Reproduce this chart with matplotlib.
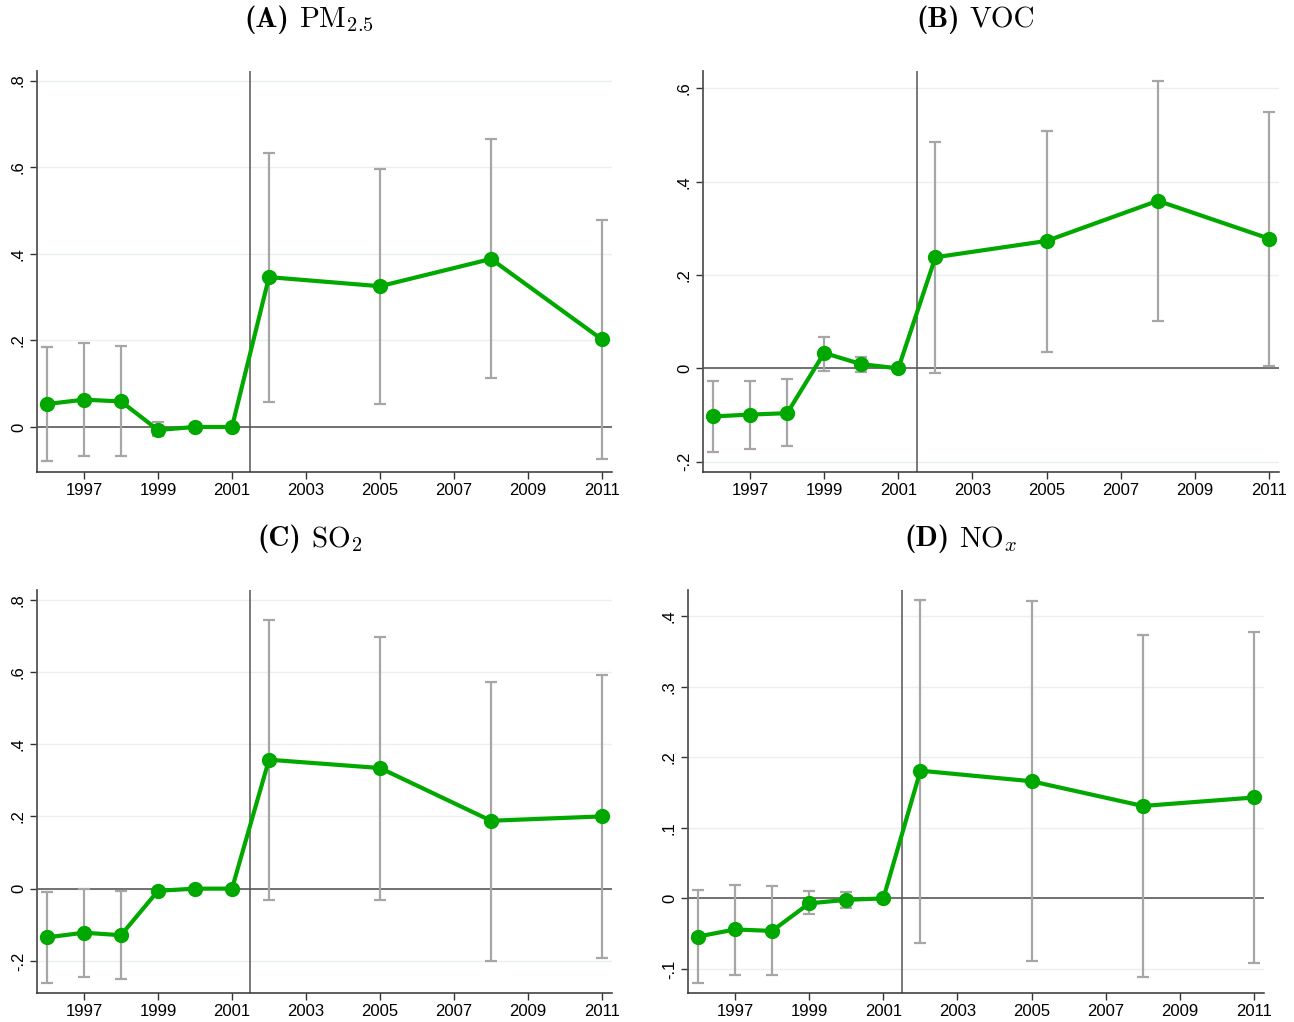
import matplotlib.pyplot as plt

plt.rcParams['font.family'] = ['Liberation Sans', 'DejaVu Sans']
plt.rcParams['mathtext.fontset'] = 'cm'

years = [1996, 1997, 1998, 1999, 2000, 2001, 2002, 2005, 2008, 2011]

# (A) PM2.5
pm_coef = [0.053, 0.063, 0.059, -0.007, 0.000, 0.0, 0.346, 0.325, 0.388, 0.202]
pm_hi = [0.185, 0.195, 0.188, 0.012, 0.002, 0.0, 0.632, 0.596, 0.665, 0.479]
pm_lo = [-0.079, -0.067, -0.068, -0.022, -0.002, 0.0, 0.058, 0.053, 0.112, -0.073]

# (B) VOC
voc_coef = [-0.103, -0.099, -0.096, 0.033, 0.009, 0.0, 0.238, 0.273, 0.359, 0.278]
voc_hi = [-0.028, -0.026, -0.023, 0.068, 0.025, 0.0, 0.485, 0.509, 0.616, 0.550]
voc_lo = [-0.179, -0.173, -0.167, -0.006, -0.008, 0.0, -0.009, 0.036, 0.101, 0.006]

# (C) SO2
so2_coef = [-0.135, -0.122, -0.129, -0.006, 0.000, 0.0, 0.357, 0.334, 0.188, 0.200]
so2_hi = [-0.009, 0.000, -0.006, -0.002, 0.002, 0.0, 0.744, 0.698, 0.573, 0.591]
so2_lo = [-0.260, -0.246, -0.249, -0.010, -0.002, 0.0, -0.032, -0.032, -0.199, -0.191]

# (D) NOx
nox_coef = [-0.054, -0.044, -0.046, -0.007, -0.002, 0.0, 0.181, 0.166, 0.131, 0.143]
nox_hi = [0.012, 0.019, 0.018, 0.010, 0.009, 0.0, 0.423, 0.422, 0.373, 0.377]
nox_lo = [-0.120, -0.108, -0.109, -0.022, -0.013, 0.0, -0.063, -0.089, -0.111, -0.092]

xticks = [1997, 1999, 2001, 2003, 2005, 2007, 2009, 2011]

panels = [
    ('(A)', r'PM$_{2.5}$', pm_coef, pm_lo, pm_hi,
     [0, 0.2, 0.4, 0.6, 0.8], ['0', '.2', '.4', '.6', '.8'], (-0.104, 0.822)),
    ('(B)', 'VOC', voc_coef, voc_lo, voc_hi,
     [-0.2, 0, 0.2, 0.4, 0.6], ['-.2', '0', '.2', '.4', '.6'], (-0.222, 0.637)),
    ('(C)', r'SO$_{2}$', so2_coef, so2_lo, so2_hi,
     [-0.2, 0, 0.2, 0.4, 0.6, 0.8], ['-.2', '0', '.2', '.4', '.6', '.8'], (-0.289, 0.827)),
    ('(D)', r'NO$_{x}$', nox_coef, nox_lo, nox_hi,
     [-0.1, 0, 0.1, 0.2, 0.3, 0.4], ['-.1', '0', '.1', '.2', '.3', '.4'], (-0.134, 0.437)),
]

W, H = 1294, 1022
# axes boxes in pixels: left, right, top, bottom
boxes = [(37, 612, 71, 472), (703, 1279, 71, 472),
         (37, 612, 590, 993), (688, 1264, 590, 993)]

fig = plt.figure(figsize=(W / 100, H / 100), dpi=100)
green = '#00a800'
grey = '#a6a6a6'
titles = []

for (lab, name, coef, lo, hi, yt, ytl, ylim), (l, r, t, b) in zip(panels, boxes):
    ax = fig.add_axes([l / W, 1 - b / H, (r - l) / W, (b - t) / H])
    for y in yt:
        ax.axhline(y, color='#e8f0f2', lw=1, zorder=0)
    ax.axhline(0, color='#666666', lw=1.3, zorder=1)
    ax.axvline(2001.5, color='#555555', lw=1.1, zorder=1)
    yerr = [[c - a for c, a in zip(coef, lo)], [a - c for c, a in zip(coef, hi)]]
    ax.errorbar(years, coef, yerr=yerr, fmt='none', ecolor=grey, elinewidth=1.6,
                capsize=4, capthick=1.6, zorder=2)
    ax.plot(years, coef, color=green, lw=3, marker='o', ms=10, zorder=3)
    ax.set_xlim(1995.73, 2011.27)
    ax.set_ylim(*ylim)
    ax.set_xticks(xticks)
    ax.set_xticklabels([str(x) for x in xticks], fontsize=12)
    ax.set_yticks(yt)
    ax.set_yticklabels(ytl, fontsize=12, rotation=90, va='center')
    ax.tick_params(direction='out', length=5, width=1, color='#333333', pad=3)
    for s in ['top', 'right']:
        ax.spines[s].set_visible(False)
    ax.spines['left'].set_color('#555555')
    ax.spines['bottom'].set_color('#333333')
    ax.spines['left'].set_linewidth(1.3)
    ax.spines['bottom'].set_linewidth(1.1)
    # title in two pieces: bold label + roman name
    ty = 1 - (t - 51) / H
    t1 = fig.text(0, ty, lab, family='cmb10', fontsize=21, ha='left', va='center')
    t2 = fig.text(0, ty, name, family='cmr10', fontsize=21, ha='left', va='center')
    titles.append((t1, t2, (l + r) / 2 - 15))

fig.canvas.draw()
rend = fig.canvas.get_renderer()
gap = 10
for t1, t2, cx in titles:
    w1 = t1.get_window_extent(rend).width
    w2 = t2.get_window_extent(rend).width
    x0 = cx - (w1 + gap + w2) / 2
    t1.set_x(x0 / W)
    t2.set_x((x0 + w1 + gap) / W)

fig.savefig('out.png', dpi=100)
